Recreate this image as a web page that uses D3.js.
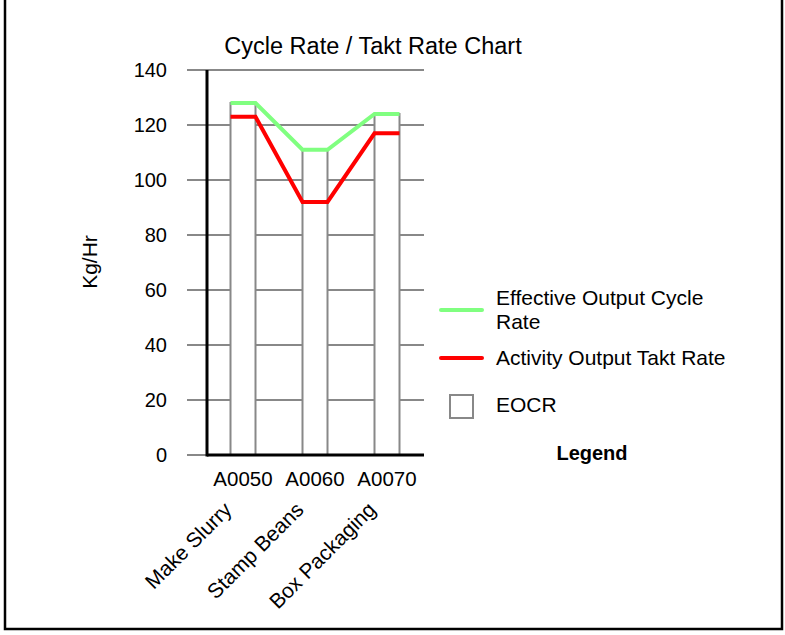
<!DOCTYPE html>
<html>
<head>
<meta charset="utf-8">
<title></title>
<style>
  body { margin: 0; background: #fff; }
  svg text { font-family: "Liberation Sans", Arial, sans-serif; fill: #000; }
</style>
</head>
<body>
<svg width="785" height="635"></svg>
<script src="https://d3js.org/d3.v7.min.js"></script>
<script>
// chart data
var codes = ["A0050", "A0060", "A0070"];
var names = ["Make Slurry", "Stamp Beans", "Box Packaging"];
var eocr = [128, 111, 124];      // Effective Output Cycle Rate (bars + green line)
var takt = [123, 92, 117];       // Activity Output Takt Rate (red line)
var yTicks = [0, 20, 40, 60, 80, 100, 120, 140];

var svg = d3.select("svg");

// frame
svg.append("rect")
    .attr("x", 5).attr("y", -5)
    .attr("width", 777).attr("height", 634)
    .attr("fill", "none").attr("stroke", "#000").attr("stroke-width", 2.5);

var y = d3.scaleLinear().domain([0, 140]).range([455, 70]);
var x = d3.scaleBand().domain(codes).range([207, 423])
    .paddingInner(47 / 72).paddingOuter(47 / 144);

// title
svg.append("text")
    .attr("x", 373).attr("y", 54)
    .attr("text-anchor", "middle")
    .style("font-size", "23.5px")
    .text("Cycle Rate / Takt Rate Chart");

// gridlines
svg.append("g").selectAll("line")
    .data(yTicks)
    .enter().append("line")
    .attr("x1", 187).attr("x2", 424)
    .attr("y1", function (d) { return y(d); })
    .attr("y2", function (d) { return y(d); })
    .attr("stroke", "#888").attr("stroke-width", 2);

// tick labels
svg.append("g").selectAll("text")
    .data(yTicks)
    .enter().append("text")
    .attr("x", 167)
    .attr("y", function (d) { return y(d); })
    .attr("dy", "0.35em")
    .attr("text-anchor", "end")
    .style("font-size", "20px")
    .text(function (d) { return d; });

// axis title
svg.append("text")
    .attr("transform", "translate(97,262) rotate(-90)")
    .attr("text-anchor", "middle")
    .style("font-size", "21px")
    .text("Kg/Hr");

// bars (EOCR)
svg.append("g").selectAll("rect")
    .data(codes)
    .enter().append("rect")
    .attr("x", function (d) { return x(d); })
    .attr("width", x.bandwidth())
    .attr("y", function (d, i) { return y(eocr[i]); })
    .attr("height", function (d, i) { return y(0) - y(eocr[i]); })
    .attr("fill", "#fff").attr("stroke", "#888").attr("stroke-width", 2);

// axes
svg.append("line")
    .attr("x1", 207).attr("x2", 207).attr("y1", y(140)).attr("y2", y(0) + 1.5)
    .attr("stroke", "#000").attr("stroke-width", 3);
svg.append("line")
    .attr("x1", 207).attr("x2", 424).attr("y1", y(0)).attr("y2", y(0))
    .attr("stroke", "#000").attr("stroke-width", 3);

// rate lines: flat across each bar top, joined between bars
function steps(vals) {
    var pts = [];
    codes.forEach(function (c, i) {
        pts.push([x(c), y(vals[i])]);
        pts.push([x(c) + x.bandwidth(), y(vals[i])]);
    });
    return pts;
}
var line = d3.line();
svg.append("path")
    .attr("d", line(steps(eocr)))
    .attr("fill", "none").attr("stroke", "#80ff80").attr("stroke-width", 4);
svg.append("path")
    .attr("d", line(steps(takt)))
    .attr("fill", "none").attr("stroke", "#ff0000").attr("stroke-width", 4);

// category codes
svg.append("g").selectAll("text")
    .data(codes)
    .enter().append("text")
    .attr("x", function (d) { return x(d) + x.bandwidth() / 2; })
    .attr("y", 486)
    .attr("text-anchor", "middle")
    .style("font-size", "20.5px")
    .text(function (d) { return d; });

// rotated activity names
svg.append("g").selectAll("text")
    .data(names)
    .enter().append("text")
    .attr("transform", function (d, i) {
        var cx = x(codes[i]) + x.bandwidth() / 2;
        return "translate(" + (cx - 10) + ",511) rotate(-45)";
    })
    .attr("text-anchor", "end")
    .style("font-size", "21px")
    .text(function (d) { return d; });

// legend
var lg = svg.append("g");
lg.append("line").attr("x1", 441).attr("x2", 482).attr("y1", 310).attr("y2", 310)
    .attr("stroke", "#80ff80").attr("stroke-width", 4).attr("stroke-linecap", "round");
lg.append("text").attr("x", 496).attr("y", 305).style("font-size", "21px")
    .text("Effective Output Cycle");
lg.append("text").attr("x", 496).attr("y", 329).style("font-size", "21px")
    .text("Rate");
lg.append("line").attr("x1", 441).attr("x2", 482).attr("y1", 358).attr("y2", 358)
    .attr("stroke", "#ff0000").attr("stroke-width", 4).attr("stroke-linecap", "round");
lg.append("text").attr("x", 496).attr("y", 365).style("font-size", "21px")
    .text("Activity Output Takt Rate");
lg.append("rect").attr("x", 450).attr("y", 395).attr("width", 23).attr("height", 23)
    .attr("fill", "#fff").attr("stroke", "#888").attr("stroke-width", 2);
lg.append("text").attr("x", 496).attr("y", 412).style("font-size", "21px")
    .text("EOCR");
lg.append("text").attr("x", 592).attr("y", 460).attr("text-anchor", "middle")
    .style("font-size", "20px").style("font-weight", "bold")
    .text("Legend");
</script>
</body>
</html>
